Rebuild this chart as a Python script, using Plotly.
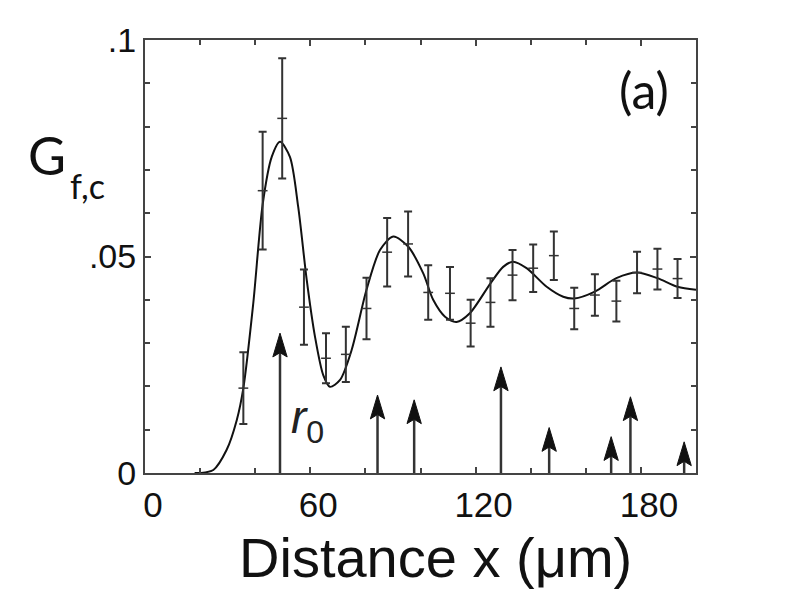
import plotly.graph_objects as go

# fitted curve
curve_x = [18, 20, 24.8, 29.6, 33.3, 35.7, 39.3, 42.7, 46, 49, 52.6, 55.6, 58.7, 61.7,
           64.7, 67.1, 70.8, 75, 80.4, 85.3, 90.1, 95.5, 101, 104.6, 108.9, 113.1,
           117.9, 125.4, 130, 133.6, 138.5, 145.8, 151.8, 155.8, 163.3, 171.1, 178.6,
           186, 193.3, 200]
curve_y = [0, 0, 0.0007, 0.0053, 0.0122, 0.0196, 0.0392, 0.062, 0.073, 0.0765, 0.073,
           0.0615, 0.0446, 0.0315, 0.0226, 0.0199, 0.0215, 0.0284, 0.0423, 0.0515,
           0.0546, 0.0523, 0.0461, 0.040, 0.0361, 0.0349, 0.0369, 0.0438, 0.0476,
           0.0488, 0.0473, 0.043, 0.0407, 0.0403, 0.0419, 0.045, 0.0463, 0.045,
           0.043, 0.0423]

# measured points with error bars
pts_x = [35.7, 42.7, 49.8, 57.7, 65.7, 72.9, 80.4, 87.9, 95.5, 102.8, 110.7, 118.2,
         125.4, 133.4, 140.9, 148.4, 155.8, 163.3, 171.1, 178.6, 186.0, 193.3]
pts_y = [0.0196, 0.0652, 0.0819, 0.0383, 0.0265, 0.0274, 0.038, 0.051, 0.0529, 0.0417,
         0.0415, 0.0346, 0.0394, 0.0457, 0.0473, 0.0502, 0.038, 0.0411, 0.0397, 0.0463,
         0.0471, 0.0449]
pts_err = [0.0083, 0.0136, 0.0139, 0.0087, 0.0058, 0.0064, 0.0071, 0.0079, 0.0075,
           0.0063, 0.0061, 0.0054, 0.0056, 0.0058, 0.0055, 0.0056, 0.0048, 0.0048,
           0.0047, 0.0048, 0.0047, 0.0045]

# arrows (positions and tip heights)
arrow_x = [49.0, 84.4, 97.7, 129.2, 146.7, 169.2, 176.2, 195.7]
arrow_h = [0.0323, 0.018, 0.0169, 0.0245, 0.0105, 0.0084, 0.0176, 0.0072]

x_ticks = [0, 60, 120, 180]
y_ticks = [0, 0.05, 0.1]
y_ticktext = ["0", ".05", ".1"]

# arrowhead size in data units
head_w = 2.6
head_len = 0.0055
notch = 0.0045

fig = go.Figure()

# arrow shafts
sx, sy = [], []
for x, h in zip(arrow_x, arrow_h):
    sx += [x, x, None]
    sy += [0, h - notch, None]
fig.add_trace(go.Scatter(x=sx, y=sy, mode="lines",
                         line=dict(color="#333", width=2.5), hoverinfo="skip"))

# arrow heads
hx, hy = [], []
for x, h in zip(arrow_x, arrow_h):
    hx += [x, x - head_w, x, x + head_w, x, None]
    hy += [h, h - head_len, h - notch, h - head_len, h, None]
fig.add_trace(go.Scatter(x=hx, y=hy, mode="lines", fill="toself",
                         fillcolor="#111", line=dict(color="#111", width=1),
                         hoverinfo="skip"))

# fit curve
fig.add_trace(go.Scatter(x=curve_x, y=curve_y, mode="lines",
                         line=dict(color="#111", width=2, shape="spline", smoothing=0.8)))

# data with error bars
fig.add_trace(go.Scatter(
    x=pts_x, y=pts_y, mode="markers",
    marker=dict(symbol="line-ew", size=7, line=dict(color="#333", width=1.5)),
    error_y=dict(type="data", array=pts_err, color="#333", thickness=2, width=4),
))

font_axis = "Liberation Sans, Arial, sans-serif"

# page body has an 8px margin, so the figure is 784x584 and margins are 8px smaller
fig.update_layout(
    width=784, height=584,
    margin=dict(l=137, r=96, t=32, b=119),
    paper_bgcolor="white", plot_bgcolor="white",
    showlegend=False,
    xaxis=dict(
        range=[0, 200], tickvals=x_ticks, ticks="inside", ticklen=6,
        tickcolor="#444", tickwidth=1.5,
        minor=dict(dtick=20, ticks="inside", ticklen=5, tickcolor="#444"),
        showline=True, linecolor="#444", linewidth=2, mirror="ticks",
        showgrid=False, zeroline=False, ticklabelshift=8,
        tickfont=dict(family=font_axis, size=35, color="#111"),
    ),
    yaxis=dict(
        range=[0, 0.1], tickvals=y_ticks, ticktext=y_ticktext, ticks="inside",
        ticklen=6, tickcolor="#444", tickwidth=1.5,
        minor=dict(dtick=0.01, ticks="inside", ticklen=5, tickcolor="#444"),
        showline=True, linecolor="#444", linewidth=2, mirror="ticks",
        showgrid=False, zeroline=False,
        tickfont=dict(family=font_axis, size=34, color="#111"),
    ),
)

# x axis title
fig.add_annotation(text="Distance x (\u03bcm)", xref="paper", yref="paper",
                   x=0.528, y=-0.196, xanchor="center", yanchor="middle",
                   showarrow=False, font=dict(family=font_axis, size=56, color="#111"))

# y axis label G_f,c
fig.add_annotation(text="G", xref="paper", yref="paper", x=-0.178, y=0.735,
                   xanchor="center", yanchor="middle", showarrow=False,
                   font=dict(family="Lato, sans-serif", size=52, color="#111"))
fig.add_annotation(text="f,c", xref="paper", yref="paper", x=-0.104, y=0.665,
                   xanchor="center", yanchor="middle", showarrow=False,
                   font=dict(family="Lato, sans-serif", size=34, color="#111"))

# panel label
fig.add_annotation(text="(a)", xref="paper", yref="paper", x=0.906, y=0.885,
                   xanchor="center", yanchor="middle", showarrow=False,
                   font=dict(family="Lato, sans-serif", size=50, color="#111"))

# r0 label
fig.add_annotation(text="<i>r</i><sub>0</sub>", x=59.1, y=0.0122,
                   xanchor="center", yanchor="middle", showarrow=False,
                   font=dict(family=font_axis, size=46, color="#222"))

fig.write_html("out.html")
